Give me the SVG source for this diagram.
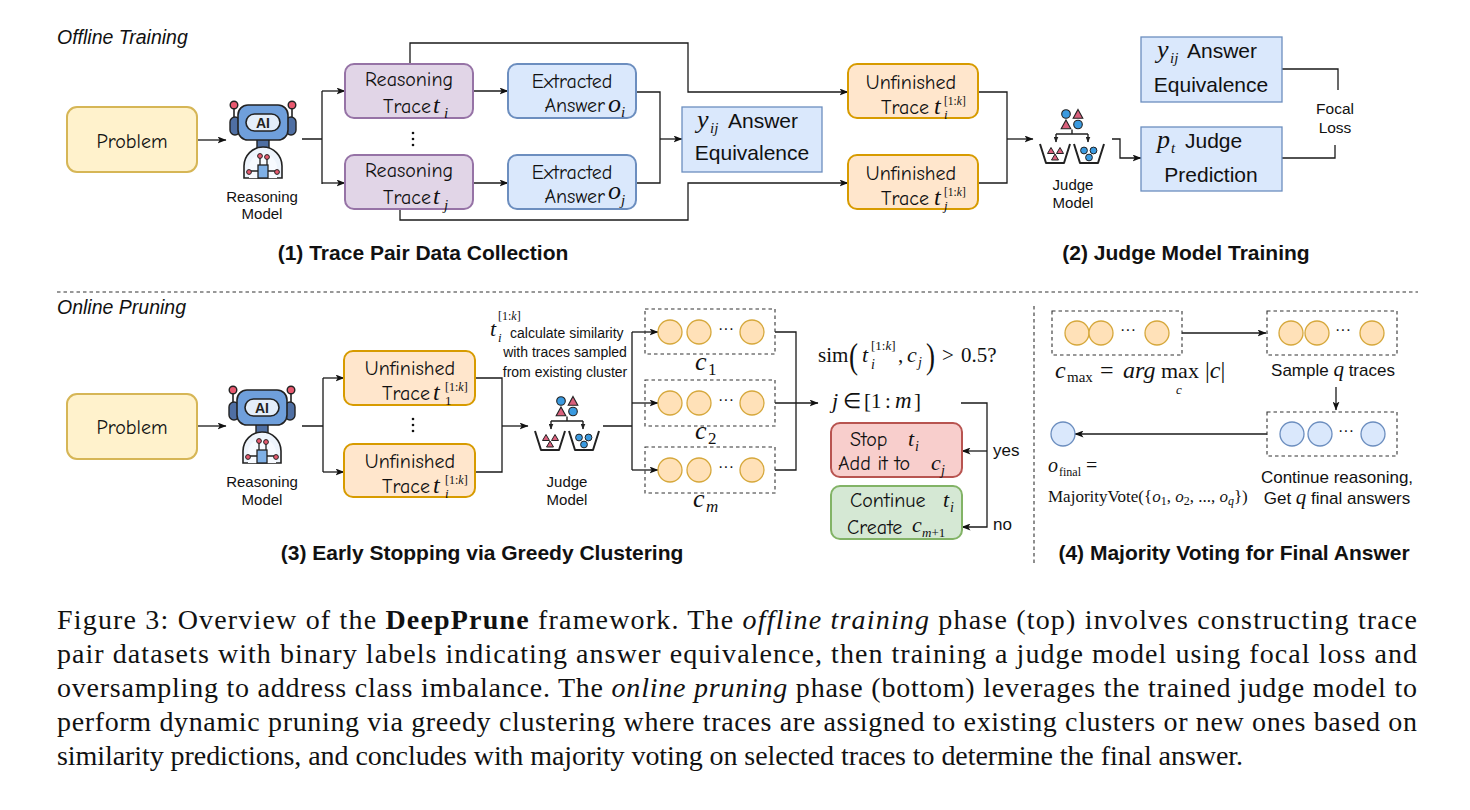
<svg xmlns="http://www.w3.org/2000/svg" xmlns:xlink="http://www.w3.org/1999/xlink" width="1470" height="810" viewBox="0 0 1470 810">
<style>
.ln{stroke:#1a1a1a;stroke-width:1.3;fill:none}
.ar{marker-end:url(#ah)}
.dash{stroke:#333;stroke-width:1.1;fill:none;stroke-dasharray:3.5 3}
.cm{font-family:"Comic Sans MS","Comic Neue","Noto Sans",sans-serif;font-size:20px;fill:#111}
.hv{font-family:"Liberation Sans",Arial,Helvetica,sans-serif;fill:#111}
.mi{font-family:"Liberation Serif","Times New Roman",serif;font-style:italic;fill:#111}
.mr{font-family:"Liberation Serif","Times New Roman",serif;font-style:normal;fill:#111}
.hd{font-family:"Liberation Sans",Arial,sans-serif;font-weight:bold;font-size:21px;fill:#111;text-anchor:middle}
.cap{font-family:"Liberation Serif","Times New Roman",serif;font-size:28px;fill:#111}
.mid{text-anchor:middle}
.end{text-anchor:end}
.yel{fill:#fff2cc;stroke:#d6b656;stroke-width:2}
.org{fill:#ffe6cc;stroke:#d79b00;stroke-width:2}
.pur{fill:#e1d5e7;stroke:#9673a6;stroke-width:2}
.blu{fill:#dae8fc;stroke:#6c8ebf;stroke-width:2}
.blu1{fill:#dae8fc;stroke:#6c8ebf;stroke-width:1.3}
.red{fill:#f8cecc;stroke:#b85450;stroke-width:2}
.grn{fill:#d5e8d4;stroke:#82b366;stroke-width:2}
.oc{fill:#ffe1b8;stroke:#d6a83c;stroke-width:1.3}
.bc{fill:#dae8fc;stroke:#6c8ebf;stroke-width:1.3}
</style>
<defs>
<marker id="ah" markerWidth="9" markerHeight="7" refX="8.5" refY="3.5" orient="auto" markerUnits="userSpaceOnUse"><path d="M0 0 L9 3.5 L0 7 L2.2 3.5 Z" fill="#111"/></marker>
<marker id="sah" markerWidth="6" markerHeight="5" refX="5.5" refY="2.5" orient="auto" markerUnits="userSpaceOnUse"><path d="M0 0 L6 2.5 L0 5 Z" fill="#222"/></marker>
<g id="robot">
<line x1="-29" y1="3" x2="-29" y2="14" stroke="#222" stroke-width="1.6"/>
<line x1="29" y1="3" x2="29" y2="14" stroke="#222" stroke-width="1.6"/>
<circle cx="-29" cy="0" r="3.8" fill="#e8596f" stroke="#222" stroke-width="1.4"/>
<circle cx="29" cy="0" r="3.8" fill="#e8596f" stroke="#222" stroke-width="1.4"/>
<rect x="-33" y="12" width="10" height="18" rx="5" fill="#4f6fa3" stroke="#222" stroke-width="1.4"/>
<rect x="23" y="12" width="10" height="18" rx="5" fill="#4f6fa3" stroke="#222" stroke-width="1.4"/>
<rect x="-6" y="33" width="12" height="10" fill="#4f6fa3" stroke="#222" stroke-width="1.4"/>
<rect x="-25" y="0" width="50" height="35" rx="10" fill="#6f9fdb" stroke="#222" stroke-width="1.6"/>
<rect x="-17" y="9" width="34" height="17" rx="8.5" fill="#e4eefa" stroke="#222" stroke-width="1.6"/>
<text x="0" y="22.8" text-anchor="middle" font-family="Liberation Sans,Arial,sans-serif" font-weight="bold" font-size="14" fill="#222">AI</text>
<path d="M-19 73 V61 A19 19 0 0 1 19 61 V73 Z" fill="#eef4fc" stroke="#222" stroke-width="1.6"/>
<path d="M-14 73 V63 A14 14 0 0 1 14 63 V73" fill="#f7faff" stroke="none"/>
<path d="M-3 61 V53 M4 61 V54 M-5 66 H-12 M5 66 H12" stroke="#222" stroke-width="1.3" fill="none"/>
<rect x="-5" y="60" width="10" height="13" fill="#7fb0e6" stroke="#222" stroke-width="1.3"/>
<circle cx="-3" cy="51" r="2.4" fill="#e8596f" stroke="#222" stroke-width="1"/>
<circle cx="4" cy="52" r="2.4" fill="#e8596f" stroke="#222" stroke-width="1"/>
<circle cx="-14" cy="67" r="2.4" fill="#e8596f" stroke="#222" stroke-width="1"/>
<circle cx="14" cy="67" r="2.4" fill="#e8596f" stroke="#222" stroke-width="1"/>
</g>
<g id="judge">
<circle cx="-6" cy="6" r="4.3" fill="#3a9ae0" stroke="#222" stroke-width="1.1"/>
<path d="M6 1.5 L10.8 10.3 L1.2 10.3 Z" fill="#d9607c" stroke="#222" stroke-width="1.1"/>
<path d="M-6 12 L-1.2 20.8 L-10.8 20.8 Z" fill="#d9607c" stroke="#222" stroke-width="1.1"/>
<circle cx="6" cy="16.5" r="4.3" fill="#3a9ae0" stroke="#222" stroke-width="1.1"/>
<path d="M0 21.5 V26 M-16 26 H16" stroke="#222" stroke-width="1.4" fill="none"/>
<path d="M-16 26 V34" stroke="#222" stroke-width="1.4" marker-end="url(#sah)"/>
<path d="M16 26 V34" stroke="#222" stroke-width="1.4" marker-end="url(#sah)"/>
<path d="M-32 36 L-26 55 L-8 55 L-2 36" stroke="#222" stroke-width="2" fill="none" stroke-linejoin="round"/>
<path d="M2 36 L8 55 L26 55 L32 36" stroke="#222" stroke-width="2" fill="none" stroke-linejoin="round"/>
<path d="M-21 39.5 L-17.5 45.5 L-24.5 45.5 Z M-12 39.5 L-8.5 45.5 L-15.5 45.5 Z M-17 46 L-13.5 52 L-20.5 52 Z" fill="#d9607c" stroke="#222" stroke-width="1"/>
<circle cx="12" cy="42.5" r="3.4" fill="#3a9ae0" stroke="#222" stroke-width="1"/>
<circle cx="21.5" cy="42.5" r="3.4" fill="#3a9ae0" stroke="#222" stroke-width="1"/>
<circle cx="17" cy="49.5" r="3.4" fill="#3a9ae0" stroke="#222" stroke-width="1"/>
</g>
</defs>
<rect width="1470" height="810" fill="#ffffff"/>

<!-- section titles -->
<text x="57" y="44" class="hv" font-size="19.5" font-style="italic">Offline Training</text>
<text x="57" y="314" class="hv" font-size="19.5" font-style="italic">Online Pruning</text>
<path d="M57 292 H1418" class="dash"/>
<path d="M1034 306 V566" class="dash"/>
<text x="423" y="260" class="hd">(1) Trace Pair Data Collection</text>
<text x="1186" y="260" class="hd">(2) Judge Model Training</text>
<text x="482" y="560" class="hd">(3) Early Stopping via Greedy Clustering</text>
<text x="1234" y="560" class="hd">(4) Majority Voting for Final Answer</text>

<!-- connectors -->
<g id="connectors">
<path d="M197 140 H226" class="ln ar"/>
<path d="M302 139 H322 M322 91 V184" class="ln"/>
<path d="M322 91 H345" class="ln ar"/>
<path d="M322 183 H345" class="ln ar"/>
<path d="M473 91 H508" class="ln ar"/>
<path d="M473 183 H508" class="ln ar"/>
<path d="M636 92 H660 V183 H636" class="ln"/>
<path d="M660 139 H682" class="ln ar"/>
<path d="M410 64 V43 H688 V92 H848" class="ln ar"/>
<path d="M400 209 V220 H688 V183 H848" class="ln ar"/>
<path d="M978 92 H1007 V183 H978" class="ln"/>
<path d="M1007 139 H1033" class="ln ar"/>
<path d="M1112 139 H1120 V158 H1141" class="ln ar"/>
<path d="M1282 69 H1338 V90" class="ln"/>
<path d="M1282 158 H1335 V145" class="ln"/>

<path d="M197 426 H226" class="ln ar"/>
<path d="M302 426 H323 M323 378 V472" class="ln"/>
<path d="M323 378 H344" class="ln ar"/>
<path d="M323 472 H344" class="ln ar"/>
<path d="M475 378 H502 V472 H475" class="ln"/>
<path d="M502 426 H528" class="ln ar"/>
<path d="M603 426 H632 M632 332 V470" class="ln"/>
<path d="M632 332 H658" class="ln ar"/>
<path d="M632 403 H658" class="ln ar"/>
<path d="M632 470 H658" class="ln ar"/>
<path d="M775 332 H796 V470 H775" class="ln"/>
<path d="M775 403 H818" class="ln ar"/>
<path d="M961 403 H987 V527 H962" class="ln ar"/>
<path d="M987 451 H962" class="ln ar"/>

<path d="M1182 333 H1266" class="ln ar"/>
<path d="M1336 387 V410" class="ln ar"/>
<path d="M1267 434 H1075" class="ln ar"/>
</g>

<!-- ===== top ===== -->
<g id="problem1">
<rect x="67" y="107" width="130" height="65" rx="10" class="yel"/>
<text x="132" y="148" class="cm mid" font-size="21">Problem</text>
</g>
<g id="reasoningModel1">
<use xlink:href="#robot" href="#robot" transform="translate(263,105)"/>
<text x="262" y="202" class="hv mid" font-size="15">Reasoning</text>
<text x="262" y="219" class="hv mid" font-size="15">Model</text>
</g>
<g id="traceI">
<rect x="345" y="64" width="128" height="54" rx="9" class="pur"/>
<text x="409" y="86" class="cm mid">Reasoning</text>
<text x="431" y="113" class="cm end">Trace</text>
<text x="433" y="113" class="mi" font-size="24">t</text>
<text x="444" y="118" class="mi" font-size="15">i</text>
</g>
<g id="dots1">
<circle cx="413" cy="133" r="1.3" fill="#111"/><circle cx="413" cy="139" r="1.3" fill="#111"/><circle cx="413" cy="145" r="1.3" fill="#111"/>
</g>
<g id="traceJ">
<rect x="345" y="155" width="128" height="54" rx="9" class="pur"/>
<text x="409" y="177" class="cm mid">Reasoning</text>
<text x="431" y="204" class="cm end">Trace</text>
<text x="433" y="204" class="mi" font-size="24">t</text>
<text x="444" y="210" class="mi" font-size="15">j</text>
</g>
<g id="answerI">
<rect x="508" y="64" width="128" height="54" rx="9" class="blu"/>
<text x="572" y="88" class="cm mid">Extracted</text>
<text x="605" y="112" class="cm end">Answer</text>
<text x="608" y="112" class="mi" font-size="26">o</text>
<text x="621" y="117" class="mi" font-size="15">i</text>
</g>
<g id="answerJ">
<rect x="508" y="155" width="128" height="54" rx="9" class="blu"/>
<text x="572" y="179" class="cm mid">Extracted</text>
<text x="605" y="203" class="cm end">Answer</text>
<text x="608" y="199" class="mi" font-size="26">o</text>
<text x="621" y="205" class="mi" font-size="15">j</text>
</g>
<g id="equiv1">
<rect x="682" y="107" width="140" height="65" class="blu1"/>
<text x="697" y="128" class="mi" font-size="26">y</text>
<text x="710" y="133" class="mi" font-size="15">ij</text>
<text x="728" y="128" class="hv" font-size="21">Answer</text>
<text x="752" y="160" class="hv mid" font-size="21">Equivalence</text>
</g>
<g id="unfinishedI">
<rect x="848" y="64" width="130" height="54" rx="9" class="org"/>
<text x="911" y="89" class="cm mid">Unfinished</text>
<text x="929" y="114" class="cm end">Trace</text>
<text x="934" y="114" class="mi" font-size="24">t</text>
<text x="944" y="105" class="mr" font-size="11.5">[1:<tspan class="mi">k</tspan>]</text>
<text x="944" y="119" class="mi" font-size="13">i</text>
</g>
<g id="unfinishedJ">
<rect x="848" y="155" width="130" height="54" rx="9" class="org"/>
<text x="911" y="180" class="cm mid">Unfinished</text>
<text x="929" y="205" class="cm end">Trace</text>
<text x="934" y="205" class="mi" font-size="24">t</text>
<text x="944" y="196" class="mr" font-size="11.5">[1:<tspan class="mi">k</tspan>]</text>
<text x="944" y="210" class="mi" font-size="13">j</text>
</g>
<g id="judgeModel1">
<use xlink:href="#judge" href="#judge" transform="translate(1072,108)"/>
<text x="1073" y="190" class="hv mid" font-size="15">Judge</text>
<text x="1073" y="208" class="hv mid" font-size="15">Model</text>
</g>
<g id="equiv2">
<rect x="1141" y="37" width="141" height="65" class="blu1"/>
<text x="1157" y="58" class="mi" font-size="26">y</text>
<text x="1170" y="63" class="mi" font-size="15">ij</text>
<text x="1187" y="58" class="hv" font-size="21">Answer</text>
<text x="1211" y="92" class="hv mid" font-size="21">Equivalence</text>
</g>
<g id="prediction">
<rect x="1141" y="127" width="141" height="64" class="blu1"/>
<text x="1157" y="148" class="mi" font-size="26">p</text>
<text x="1171" y="153" class="mi" font-size="15">t</text>
<text x="1185" y="148" class="hv" font-size="21">Judge</text>
<text x="1211" y="182" class="hv mid" font-size="21">Prediction</text>
</g>
<g id="focalLoss">
<text x="1335" y="114" class="hv mid" font-size="15.5">Focal</text>
<text x="1335" y="133" class="hv mid" font-size="15.5">Loss</text>
</g>

<!-- ===== bottom ===== -->
<g id="problem2">
<rect x="67" y="394" width="130" height="65" rx="10" class="yel"/>
<text x="132" y="434" class="cm mid" font-size="21">Problem</text>
</g>
<g id="reasoningModel2">
<use xlink:href="#robot" href="#robot" transform="translate(262,390)"/>
<text x="262" y="487" class="hv mid" font-size="15">Reasoning</text>
<text x="262" y="505" class="hv mid" font-size="15">Model</text>
</g>
<g id="unfinished1">
<rect x="344" y="351" width="131" height="54" rx="9" class="org"/>
<text x="410" y="375" class="cm mid">Unfinished</text>
<text x="430" y="400" class="cm end">Trace</text>
<text x="433" y="400" class="mi" font-size="24">t</text>
<text x="445" y="391" class="mr" font-size="12">[1:<tspan class="mi">k</tspan>]</text>
<text x="445" y="405" class="mr" font-size="13">1</text>
</g>
<g id="dots2">
<circle cx="413" cy="419" r="1.3" fill="#111"/><circle cx="413" cy="425" r="1.3" fill="#111"/><circle cx="413" cy="431" r="1.3" fill="#111"/>
</g>
<g id="unfinishedI2">
<rect x="344" y="444" width="131" height="53" rx="9" class="org"/>
<text x="410" y="468" class="cm mid">Unfinished</text>
<text x="430" y="493" class="cm end">Trace</text>
<text x="433" y="493" class="mi" font-size="24">t</text>
<text x="445" y="484" class="mr" font-size="12">[1:<tspan class="mi">k</tspan>]</text>
<text x="445" y="498" class="mi" font-size="13">i</text>
</g>
<g id="judgeModel2">
<use xlink:href="#judge" href="#judge" transform="translate(567,395)"/>
<text x="567" y="487" class="hv mid" font-size="15">Judge</text>
<text x="567" y="505" class="hv mid" font-size="15">Model</text>
</g>
<g id="simNote">
<text x="490" y="336" class="mi" font-size="22">t</text>
<text x="498" y="320" class="mr" font-size="12">[1:<tspan class="mi">k</tspan>]</text>
<text x="498" y="342" class="mi" font-size="13">i</text>
<text x="510" y="338" class="hv" font-size="14">calculate similarity</text>
<text x="565" y="357" class="hv mid" font-size="14">with traces sampled</text>
<text x="565" y="377" class="hv mid" font-size="14">from existing cluster</text>
</g>
<g id="cluster1">
<rect x="645" y="309" width="130" height="45" class="dash"/>
<circle cx="670" cy="332" r="12" class="oc"/><circle cx="699" cy="332" r="12" class="oc"/>
<text x="726" y="334" class="hv mid" font-size="16">···</text>
<circle cx="752" cy="332" r="12" class="oc"/>
<text x="695" y="370" class="mi" font-size="26">c</text>
<text x="708" y="375" class="mr" font-size="17">1</text>
</g>
<g id="cluster2">
<rect x="645" y="380" width="130" height="46" class="dash"/>
<circle cx="670" cy="403" r="12" class="oc"/><circle cx="699" cy="403" r="12" class="oc"/>
<text x="726" y="405" class="hv mid" font-size="16">···</text>
<circle cx="752" cy="403" r="12" class="oc"/>
<text x="695" y="439" class="mi" font-size="26">c</text>
<text x="708" y="444" class="mr" font-size="17">2</text>
</g>
<g id="clusterM">
<rect x="645" y="447" width="130" height="46" class="dash"/>
<circle cx="670" cy="470" r="12" class="oc"/><circle cx="699" cy="470" r="12" class="oc"/>
<text x="726" y="472" class="hv mid" font-size="16">···</text>
<circle cx="752" cy="470" r="12" class="oc"/>
<text x="693" y="507" class="mi" font-size="26">c</text>
<text x="706" y="512" class="mi" font-size="17">m</text>
</g>
<g id="simCond">
<text x="818" y="362" class="mr" font-size="21">sim</text>
<text x="849" y="368" class="mr" font-size="36" transform="translate(849,368) scale(0.75,1) translate(-849,-368)">(</text>
<text x="862" y="362" class="mi" font-size="22">t</text>
<text x="871" y="350" class="mr" font-size="13">[1:<tspan class="mi">k</tspan>]</text>
<text x="871" y="369" class="mi" font-size="14">i</text>
<text x="898" y="362" class="mr" font-size="21">,</text>
<text x="907" y="362" class="mi" font-size="22">c</text>
<text x="918" y="367" class="mi" font-size="14">j</text>
<text x="926" y="368" class="mr" font-size="36" transform="translate(926,368) scale(0.75,1) translate(-926,-368)">)</text>
<text x="942" y="362" class="mr" font-size="21">&gt;</text>
<text x="961" y="362" class="mr" font-size="21">0.5?</text>
<text x="832" y="408" class="mi" font-size="22">j</text>
<text x="843" y="408" class="mr" font-size="21">∈</text>
<text x="864" y="408" class="mr" font-size="21">[1</text>
<text x="885" y="408" class="mr" font-size="21">:</text>
<text x="895" y="408" class="mi" font-size="23">m</text>
<text x="914" y="408" class="mr" font-size="21">]</text>
</g>
<g id="stop">
<rect x="831" y="423" width="131" height="54" rx="9" class="red"/>
<text x="850" y="446" class="cm">Stop</text>
<text x="908" y="446" class="mi" font-size="22">t</text>
<text x="915" y="451" class="mi" font-size="14">i</text>
<text x="838" y="470" class="cm">Add it to</text>
<text x="931" y="470" class="mi" font-size="22">c</text>
<text x="941" y="475" class="mi" font-size="14">j</text>
</g>
<g id="continue">
<rect x="831" y="486" width="131" height="53" rx="9" class="grn"/>
<text x="850" y="507" class="cm">Continue</text>
<text x="943" y="507" class="mi" font-size="22">t</text>
<text x="950" y="512" class="mi" font-size="14">i</text>
<text x="847" y="534" class="cm">Create</text>
<text x="912" y="532" class="mi" font-size="22">c</text>
<text x="922" y="537" class="mi" font-size="13">m<tspan class="mr">+1</tspan></text>
</g>
<text x="993" y="456" class="hv" font-size="17">yes</text>
<text x="993" y="530" class="hv" font-size="17">no</text>

<!-- ===== section 4 ===== -->
<g id="cmax">
<rect x="1052" y="311" width="130" height="44" class="dash"/>
<circle cx="1077" cy="333" r="12" class="oc"/><circle cx="1101" cy="333" r="12" class="oc"/>
<text x="1128" y="335" class="hv mid" font-size="16">···</text>
<circle cx="1157" cy="333" r="12" class="oc"/>
<text x="1055" y="378" class="mi" font-size="24">c</text>
<text x="1067" y="382" class="mr" font-size="15">max</text>
<text x="1100" y="378" class="mr" font-size="24">=</text>
<text x="1123" y="378" class="mi" font-size="24">arg</text>
<text x="1161" y="378" class="mr" font-size="22">max</text>
<text x="1176" y="394" class="mi" font-size="13">c</text>
<text x="1205" y="378" class="mr" font-size="24">|<tspan class="mi">c</tspan>|</text>
</g>
<g id="sample">
<rect x="1267" y="311" width="130" height="44" class="dash"/>
<circle cx="1291" cy="333" r="12" class="oc"/><circle cx="1317" cy="333" r="12" class="oc"/>
<text x="1343" y="335" class="hv mid" font-size="16">···</text>
<circle cx="1372" cy="333" r="12" class="oc"/>
<text x="1333" y="376" class="hv mid" font-size="17">Sample <tspan class="mi" font-size="21">q</tspan> traces</text>
</g>
<g id="finalAnswers">
<rect x="1267" y="412" width="130" height="44" class="dash"/>
<circle cx="1292" cy="434" r="12" class="bc"/><circle cx="1320" cy="434" r="12" class="bc"/>
<text x="1346" y="436" class="hv mid" font-size="16">···</text>
<circle cx="1373" cy="434" r="12" class="bc"/>
<text x="1337" y="483" class="hv mid" font-size="17">Continue reasoning,</text>
<text x="1337" y="504" class="hv mid" font-size="17">Get <tspan class="mi" font-size="21">q</tspan> final answers</text>
</g>
<g id="finalVote">
<circle cx="1063" cy="434" r="12" class="bc"/>
<text x="1048" y="472" class="mi" font-size="20">o</text>
<text x="1059" y="476" class="mr" font-size="12">final</text>
<text x="1086" y="472" class="mr" font-size="20">=</text>
<text x="1048" y="502" class="mr" font-size="17">MajorityVote({<tspan class="mi">o</tspan><tspan font-size="12" dy="3">1</tspan><tspan dy="-3">, </tspan><tspan class="mi">o</tspan><tspan font-size="12" dy="3">2</tspan><tspan dy="-3">, ..., </tspan><tspan class="mi">o</tspan><tspan class="mi" font-size="12" dy="3">q</tspan><tspan dy="-3">})</tspan></text>
</g>

<!-- caption -->
<g id="caption">
<text x="57" y="629" class="cap" textLength="1360" lengthAdjust="spacing">Figure 3: Overview of the <tspan font-weight="bold">DeepPrune</tspan> framework. The <tspan font-style="italic">offline training</tspan> phase (top) involves constructing trace</text>
<text x="57" y="663" class="cap" textLength="1360" lengthAdjust="spacing">pair datasets with binary labels indicating answer equivalence, then training a judge model using focal loss and</text>
<text x="57" y="697" class="cap" textLength="1360" lengthAdjust="spacing">oversampling to address class imbalance. The <tspan font-style="italic">online pruning</tspan> phase (bottom) leverages the trained judge model to</text>
<text x="57" y="731" class="cap" textLength="1360" lengthAdjust="spacing">perform dynamic pruning via greedy clustering where traces are assigned to existing clusters or new ones based on</text>
<text x="57" y="765" class="cap" textLength="1186" lengthAdjust="spacing">similarity predictions, and concludes with majority voting on selected traces to determine the final answer.</text>
</g>
</svg>
